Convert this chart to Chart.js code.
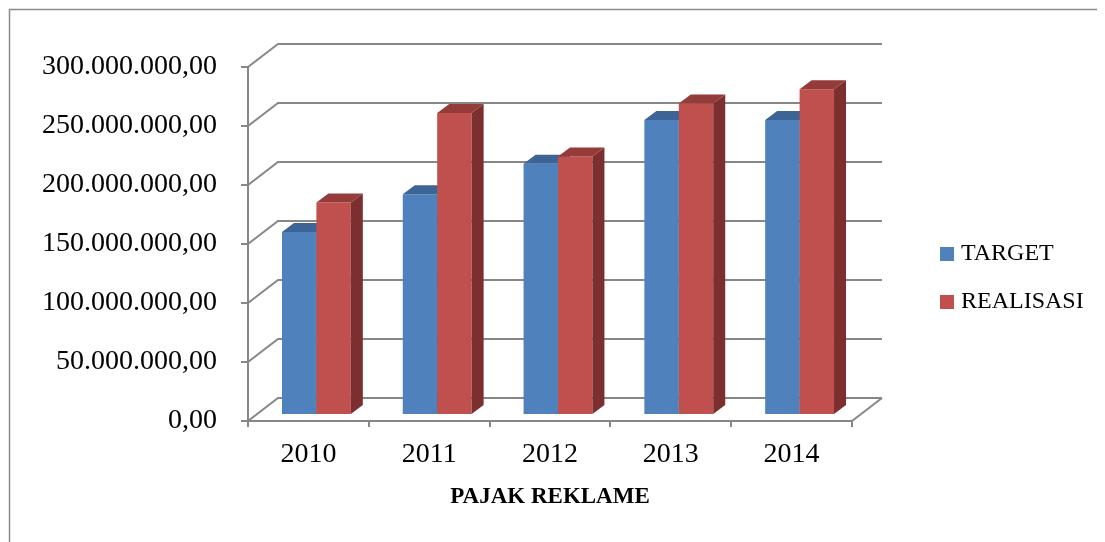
<!DOCTYPE html>
<html><head><meta charset="utf-8">
<script src="https://cdn.jsdelivr.net/npm/chart.js@4.4.1/dist/chart.umd.min.js"></script>
<style>html,body{margin:0;padding:0;background:#fff;} #wrap{width:1105px;height:542px;position:relative;}</style>
</head><body><div id="wrap"><canvas id="c" width="1105" height="542"></canvas></div>
<script>
const categories = ['2010', '2011', '2012', '2013', '2014'];
const targetValues = [155000000, 187000000, 213000000, 250000000, 250000000];
const realisasiValues = [180000000, 256000000, 219000000, 264000000, 276000000];
const seriesNames = ['TARGET', 'REALISASI'];
const yMin = 0, yMax = 300000000, yStep = 50000000;
const xAxisTitle = 'PAJAK REKLAME';

const GRID_COLOR = '#878787';
const WALL = {dx: 30, dy: -23};
const BAR_POS = {dx: 8, dy: -6};
const BAR_DEPTH = {dx: 12, dy: -9};
const FONT = 'Liberation Serif';

function fmt(v) {
  const s = Math.round(v).toString().replace(/\B(?=(\d{3})+(?!\d))/g, '.');
  return s + ',00';
}

const threeD = {
  id: 'threeD',
  beforeDatasetsDraw(chart) {
    const {ctx, chartArea: a, scales: {y}} = chart;
    ctx.save();
    ctx.strokeStyle = GRID_COLOR; ctx.lineWidth = 2;
    y.ticks.forEach(t => {
      const py = y.getPixelForValue(t.value);
      ctx.beginPath();
      ctx.moveTo(a.left, py);
      ctx.lineTo(a.left + WALL.dx, py + WALL.dy);
      ctx.lineTo(a.right + WALL.dx, py + WALL.dy);
      ctx.stroke();
    });
    ctx.beginPath();
    ctx.moveTo(a.right, a.bottom);
    ctx.lineTo(a.right + WALL.dx, a.bottom + WALL.dy);
    ctx.stroke();
    ctx.restore();
  },
  beforeDatasetDraw() {
    return false; // bars are drawn below, in series order, with their 3D faces
  },
  afterDatasetsDraw(chart) {
    const ctx = chart.ctx;
    const dx = BAR_DEPTH.dx, dy = BAR_DEPTH.dy;
    ctx.save();
    ctx.translate(BAR_POS.dx, BAR_POS.dy);
    chart.data.datasets.forEach((ds, i) => {
      const meta = chart.getDatasetMeta(i);
      meta.data.forEach(bar => {
        bar.draw(ctx);
        const {x, y, base, width} = bar.getProps(['x', 'y', 'base', 'width'], true);
        const l = x - width / 2, r = x + width / 2;
        ctx.fillStyle = ds.sideColor;
        ctx.beginPath();
        ctx.moveTo(r, y); ctx.lineTo(r + dx, y + dy); ctx.lineTo(r + dx, base + dy); ctx.lineTo(r, base);
        ctx.closePath(); ctx.fill();
        ctx.fillStyle = ds.topColor;
        ctx.beginPath();
        ctx.moveTo(l, y); ctx.lineTo(r, y); ctx.lineTo(r + dx, y + dy); ctx.lineTo(l + dx, y + dy);
        ctx.closePath(); ctx.fill();
      });
    });
    ctx.restore();
  },
  afterDraw(chart) {
    const ctx = chart.ctx;
    ctx.save();
    const lx = 940, ly = [254, 302];
    chart.data.datasets.forEach((ds, i) => {
      ctx.fillStyle = ds.backgroundColor;
      ctx.fillRect(lx, ly[i] - 7, 14, 14);
      ctx.fillStyle = '#000';
      ctx.font = '24px "' + FONT + '"';
      ctx.textBaseline = 'middle';
      ctx.textAlign = 'left';
      ctx.fillText(ds.label, 961, ly[i]);
    });
    ctx.strokeStyle = '#8a8a8a'; ctx.lineWidth = 1.5;
    ctx.beginPath();
    ctx.moveTo(9.5, 545); ctx.lineTo(9.5, 9.5); ctx.lineTo(1097, 9.5);
    ctx.stroke();
    ctx.restore();
  }
};

new Chart(document.getElementById('c'), {
  type: 'bar',
  data: {
    labels: categories,
    datasets: [
      {label: seriesNames[0], data: targetValues, backgroundColor: '#4F81BD', topColor: '#3C6596', sideColor: '#385D8A',
       barPercentage: 1, categoryPercentage: 0.57, borderWidth: 0},
      {label: seriesNames[1], data: realisasiValues, backgroundColor: '#C0504D', topColor: '#953B39', sideColor: '#7B2F2E',
       barPercentage: 1, categoryPercentage: 0.57, borderWidth: 0}
    ]
  },
  options: {
    responsive: false, animation: false, devicePixelRatio: 1,
    layout: {padding: {left: 10, top: 67, right: 253, bottom: 20}},
    plugins: {legend: {display: false}, tooltip: {enabled: false}},
    scales: {
      x: {
        grid: {offset: true, drawOnChartArea: false, drawTicks: true, tickLength: 6, color: GRID_COLOR, lineWidth: 2},
        border: {display: true, color: GRID_COLOR, width: 2},
        ticks: {color: '#000', font: {family: FONT, size: 28}, padding: 11, maxRotation: 0},
        title: {display: true, text: xAxisTitle, color: '#000', font: {family: FONT, size: 23, weight: 'bold'}, padding: {top: 0, bottom: 11}},
        afterFit(s) { s.height = 101; }
      },
      y: {
        min: yMin, max: yMax,
        ticks: {stepSize: yStep, callback: v => fmt(v), color: '#000', font: {family: FONT, size: 28}, padding: 24},
        grid: {drawOnChartArea: false, drawTicks: true, tickLength: 7, color: GRID_COLOR, lineWidth: 2},
        border: {display: true, color: GRID_COLOR, width: 2},
        afterFit(s) { s.width = 238; }
      }
    }
  },
  plugins: [threeD]
});
</script>
</body></html>
